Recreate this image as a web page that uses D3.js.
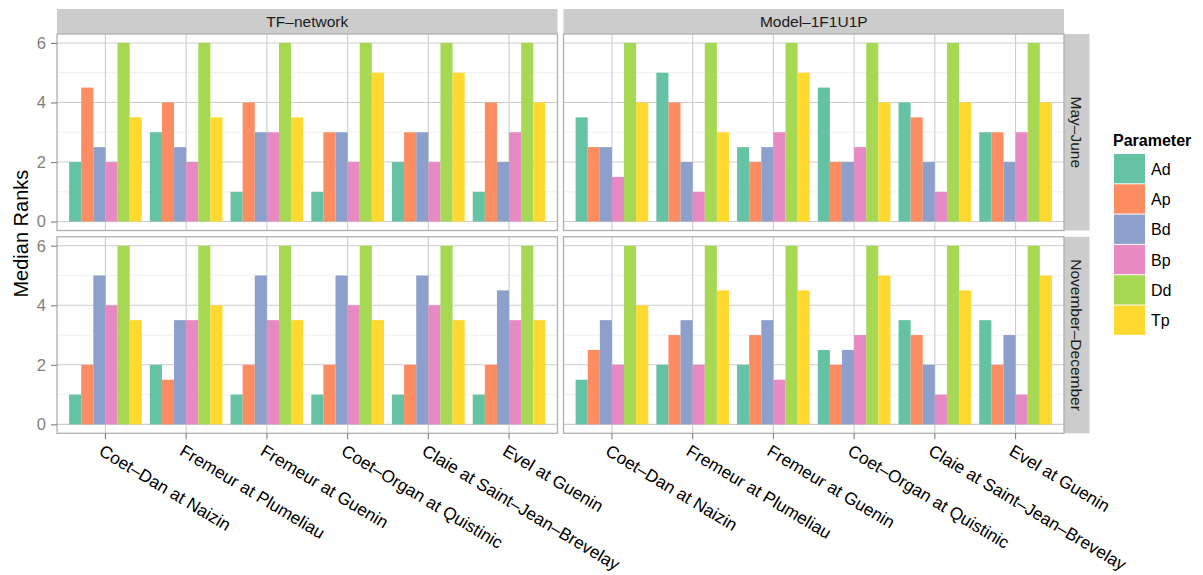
<!DOCTYPE html>
<html><head><meta charset="utf-8">
<script src="https://cdn.jsdelivr.net/npm/d3@7/dist/d3.min.js"></script>
<style>body{margin:0;background:#fff}svg{display:block}text{font-family:"Liberation Sans",Arial,Helvetica,sans-serif}</style>
</head><body><svg id="c" width="1203" height="575"></svg>
<script>
// ---- data ----
const sites = ["Coet–Dan at Naizin","Fremeur at Plumeliau","Fremeur at Guenin","Coet–Organ at Quistinic","Claie at Saint–Jean–Brevelay","Evel at Guenin"];
const params = ["Ad","Ap","Bd","Bp","Dd","Tp"];
const models = ["TF–network","Model–1F1U1P"];
const periods = ["May–June","November–December"];
const yTicks = [0,2,4,6];
const colors = ["#66C2A5","#FC8D62","#8DA0CB","#E78AC3","#A6D854","#FFD92F"];
// rows: sites, columns: params (Ad, Ap, Bd, Bp, Dd, Tp)
const tfMayJune = [[2,4.5,2.5,2,6,3.5],[3,4,2.5,2,6,3.5],[1,4,3,3,6,3.5],[1,3,3,2,6,5],[2,3,3,2,6,5],[1,4,2,3,6,4]];
const modelMayJune = [[3.5,2.5,2.5,1.5,6,4],[5,4,2,1,6,3],[2.5,2,2.5,3,6,5],[4.5,2,2,2.5,6,4],[4,3.5,2,1,6,4],[3,3,2,3,6,4]];
const tfNovDec = [[1,2,5,4,6,3.5],[2,1.5,3.5,3.5,6,4],[1,2,5,3.5,6,3.5],[1,2,5,4,6,3.5],[1,2,5,4,6,3.5],[1,2,4.5,3.5,6,3.5]];
const modelNovDec = [[1.5,2.5,3.5,2,6,4],[2,3,3.5,2,6,4.5],[2,3,3.5,1.5,6,4.5],[2.5,2,2.5,3,6,5],[3.5,3,2,1,6,4.5],[3.5,2,3,1,6,5]];
const panelData = [[tfMayJune, modelMayJune],[tfNovDec, modelNovDec]];

// ---- layout ----
const svg = d3.select("#c");
const colX = [57, 563.5], panelW = 500.5;
const rowY = [34, 236.8], panelH = 196.5;
const stripH = 25, stripW = 25.5;
const font = '"Liberation Sans",Arial,Helvetica,sans-serif';
const color = d3.scaleOrdinal().domain(params).range(colors);

const x = d3.scaleBand().domain(sites).range([0, panelW]).paddingInner(0.1).paddingOuter(0.15);
const xInner = d3.scaleBand().domain(params).range([0, x.bandwidth()]);
const y = d3.scaleLinear().domain([-0.3, 6.3]).range([panelH, 0]);
const minorTicks = [1,3,5];

// column strips
models.forEach((m, c) => {
  const g = svg.append("g").attr("transform", `translate(${colX[c]},${rowY[0]-stripH})`);
  g.append("rect").attr("width", panelW).attr("height", stripH).attr("fill", "#cccccc");
  g.append("text").attr("x", panelW/2).attr("y", stripH/2).attr("dy", "0.36em")
    .attr("text-anchor", "middle").attr("font-size", 15.5).attr("fill", "#1a1a1a").text(m);
});
// row strips
periods.forEach((p, r) => {
  const g = svg.append("g").attr("transform", `translate(${colX[1]+panelW},${rowY[r]})`);
  g.append("rect").attr("width", stripW).attr("height", panelH).attr("fill", "#cccccc");
  g.append("text").attr("transform", `translate(${stripW/2},${panelH/2}) rotate(90)`).attr("dy", "0.36em")
    .attr("text-anchor", "middle").attr("font-size", 15.5).attr("fill", "#1a1a1a").text(p);
});

panelData.forEach((row, r) => {
  row.forEach((data, c) => {
    const g = svg.append("g").attr("transform", `translate(${colX[c]},${rowY[r]})`);
    g.append("rect").attr("width", panelW).attr("height", panelH).attr("fill", "#fff");
    // minor grid
    g.selectAll(".mn").data(minorTicks).join("line")
      .attr("x1", 0).attr("x2", panelW).attr("y1", d => y(d)).attr("y2", d => y(d))
      .attr("stroke", "#f2f2f2").attr("stroke-width", 1.2);
    // major grid
    g.selectAll(".mjy").data(yTicks).join("line")
      .attr("x1", 0).attr("x2", panelW).attr("y1", d => y(d)).attr("y2", d => y(d))
      .attr("stroke", "#cdcdcd").attr("stroke-width", 1.1);
    g.selectAll(".mjx").data(sites).join("line")
      .attr("y1", 0).attr("y2", panelH).attr("x1", d => x(d) + x.bandwidth()/2).attr("x2", d => x(d) + x.bandwidth()/2)
      .attr("stroke", "#cdcdcd").attr("stroke-width", 1.1);
    // bars
    const flat = [];
    sites.forEach((s, i) => params.forEach((p, j) => flat.push({site: s, param: p, value: data[i][j]})));
    g.selectAll(".bar").data(flat).join("rect")
      .attr("x", d => x(d.site) + xInner(d.param))
      .attr("width", xInner.bandwidth())
      .attr("y", d => y(d.value))
      .attr("height", d => y(0) - y(d.value))
      .attr("fill", d => color(d.param));
    // border
    g.append("rect").attr("width", panelW).attr("height", panelH).attr("fill", "none")
      .attr("stroke", "#b0b0b0").attr("stroke-width", 1.3);
    // y axis (left column)
    if (c === 0) {
      const ax = g.append("g").call(d3.axisLeft(y).tickValues(yTicks).tickSize(6).tickPadding(5).tickFormat(d3.format("d")));
      ax.select(".domain").remove();
      ax.selectAll("line").attr("stroke", "#7f7f7f").attr("stroke-width", 1.1);
      ax.selectAll("text").attr("fill", "#7f7f7f").attr("font-size", 16.5).attr("font-family", font);
    }
    // x axis (bottom row)
    if (r === 1) {
      const ax = g.append("g").attr("transform", `translate(0,${panelH})`)
        .call(d3.axisBottom(x).tickSize(6).tickPadding(0));
      ax.select(".domain").remove();
      ax.selectAll("line").attr("stroke", "#7f7f7f").attr("stroke-width", 1.1);
      ax.selectAll("text").attr("fill", "#000").attr("font-size", 17.3).attr("font-family", font)
        .attr("text-anchor", "start").attr("y", 0).attr("dy", 0)
        .attr("transform", "translate(-1,10) rotate(31)").attr("dominant-baseline", "hanging");
    }
  });
});

// y axis title
svg.append("text").attr("transform", `translate(21,${(rowY[0] + rowY[1] + panelH)/2}) rotate(-90)`)
  .attr("text-anchor", "middle").attr("dy", "0.36em").attr("font-size", 20).attr("fill", "#000").text("Median Ranks");

// legend
const lg = svg.append("g").attr("transform", "translate(1113,128)");
lg.append("text").attr("x", 0).attr("y", 18).attr("font-size", 16).attr("font-weight", "bold").attr("fill", "#000").text("Parameter");
params.forEach((p, i) => {
  const k = lg.append("g").attr("transform", `translate(1,${26 + i*30.3})`);
  k.append("rect").attr("width", 31).attr("height", 29.3).attr("fill", color(p));
  k.append("text").attr("x", 37).attr("y", 15).attr("dy", "0.36em").attr("font-size", 16).attr("fill", "#000").text(p);
});
</script></body></html>
